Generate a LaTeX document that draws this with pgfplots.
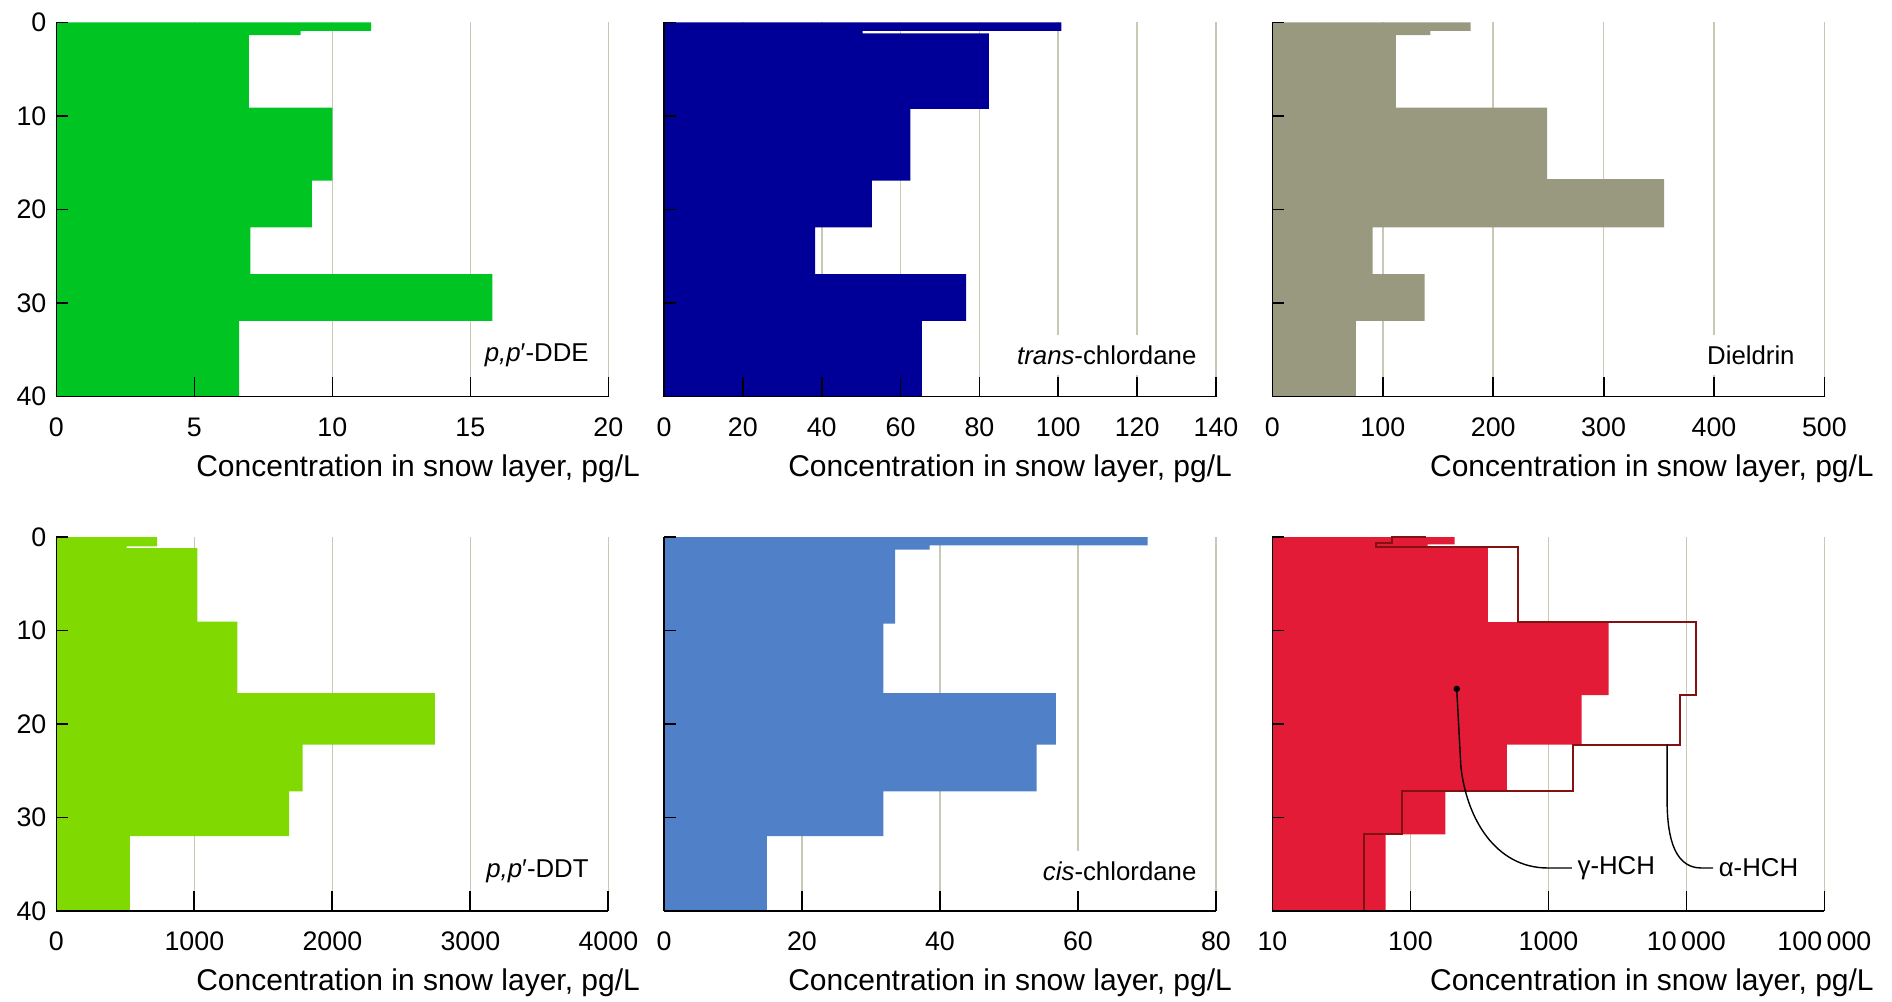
\documentclass[border=0pt]{standalone}
\usepackage{pgfplots}
\pgfplotsset{compat=1.18}
\usepackage{fontspec}
\setmainfont{Liberation Sans}
\usetikzlibrary{arrows.meta}

\definecolor{ddeGreen}{RGB}{0,196,34}
\definecolor{transBlue}{RGB}{0,0,153}
\definecolor{dieldrinGray}{RGB}{153,153,128}
\definecolor{ddtGreen}{RGB}{128,217,0}
\definecolor{cisBlue}{RGB}{79,128,200}
\definecolor{hchRed}{RGB}{227,27,54}
\definecolor{hchLine}{RGB}{128,18,18}
\definecolor{gridKhaki}{RGB}{200,200,180}

\newcommand{\ticksize}{\fontsize{13.4}{16}\selectfont}
\newcommand{\labelsize}{\fontsize{15}{18}\selectfont}
\newcommand{\namesize}{\fontsize{12.9}{15}\selectfont}

% vertical guide lines, drawn before the profiles so they stay behind them
\newcommand{\guides}[1]{%
  \pgfplotsinvokeforeach{#1}{%
    \draw[gridKhaki, line width=0.8pt] (axis cs:##1,0) -- (axis cs:##1,40);}}

\pgfplotsset{
  profile/.style={
    width=276pt, height=187pt, scale only axis, anchor=south west,
    y dir=reverse, ymin=0, ymax=40, ytick={0,10,20,30,40},
    axis x line*=bottom, axis y line*=left,
    axis line style={line width=0.9pt, -},
    tick align=inside,
    major tick length=6pt,
    xtick style={line width=0.9pt, black, /pgfplots/major tick length=10pt},
    ytick style={line width=0.9pt, black},
    minor tick num=0,
    xminorticks=false, yminorticks=false,
    axis on top,
    clip=false,
    ticklabel style={font=\ticksize},
    /pgf/number format/assume math mode=true,
    /pgf/number format/1000 sep={},
    xticklabel style={yshift=-7pt},
    yticklabel style={xshift=-1.5pt},
    xlabel={Concentration in snow layer, pg/L},
    xlabel style={at={(ticklabel cs:1)}, anchor=north east, yshift=-2pt, font=\labelsize},
  },
  nolabels/.style={yticklabels={}},
}

\begin{document}
\begin{tikzpicture}
\useasboundingbox (0,0) rectangle (946pt,501pt);

% ---------- top row ----------
\begin{axis}[profile, at={(28.2pt,302.75pt)},
  xmin=0, xmax=20, xtick={0,5,10,15,20},
  xlabel style={xshift=19.3pt}]
  \guides{5,10,15,20}
  \addplot[fill=ddeGreen, draw=none] coordinates {
    (0,0) (11.4,0) (11.4,0.9) (8.85,0.9) (8.85,1.35) (6.97,1.35)
    (6.97,9.1) (10.0,9.1) (10.0,16.9) (9.26,16.9) (9.26,21.9)
    (7.03,21.9) (7.03,26.9) (15.8,26.9) (15.8,31.9) (6.62,31.9)
    (6.62,40) (0,40)} -- cycle;
\end{axis}

\begin{axis}[profile, nolabels, at={(332pt,302.75pt)},
  xmin=0, xmax=140, xtick={0,20,...,140},
  xlabel style={xshift=11.5pt}]
  \guides{20,40,60,80,100,120,140}
  \addplot[fill=transBlue, draw=none] coordinates {
    (0,0) (100.8,0) (100.8,0.9) (50.4,0.9) (50.4,1.15) (82.4,1.15)
    (82.4,9.25) (62.5,9.25) (62.5,16.9) (52.7,16.9) (52.7,21.9)
    (38.3,21.9) (38.3,26.9) (76.6,26.9) (76.6,31.9) (65.4,31.9)
    (65.4,40) (0,40)} -- cycle;
\end{axis}

\begin{axis}[profile, nolabels, at={(636.2pt,302.75pt)},
  xmin=0, xmax=500, xtick={0,100,...,500},
  xlabel style={xshift=28.2pt}]
  \guides{100,200,300,400,500}
  \addplot[fill=dieldrinGray, draw=none] coordinates {
    (0,0) (179.6,0) (179.6,0.9) (143,0.9) (143,1.35) (111.9,1.35)
    (111.9,9.1) (248.9,9.1) (248.9,16.75) (354.8,16.75) (354.8,21.9)
    (90.7,21.9) (90.7,26.9) (137.8,26.9) (137.8,31.9) (75.6,31.9)
    (75.6,40) (0,40)} -- cycle;
\end{axis}

% ---------- bottom row ----------
\begin{axis}[profile, at={(28.2pt,45.5pt)},
  xmin=0, xmax=4000, xtick={0,1000,...,4000},
  xlabel style={xshift=19.3pt}]
  \guides{1000,2000,3000,4000}
  \addplot[fill=ddtGreen, draw=none] coordinates {
    (0,0) (730,0) (730,1.0) (508,1.0) (508,1.2) (1022,1.2)
    (1022,9.05) (1312,9.05) (1312,16.7) (2742,16.7) (2742,22.2)
    (1784,22.2) (1784,27.2) (1687,27.2) (1687,32) (532,32)
    (532,40) (0,40)} -- cycle;
\end{axis}

\begin{axis}[profile, nolabels, at={(332pt,45.5pt)},
  xmin=0, xmax=80, xtick={0,20,...,80},
  xlabel style={xshift=11.5pt}]
  \guides{20,40,60,80}
  \addplot[fill=cisBlue, draw=none] coordinates {
    (0,0) (70.1,0) (70.1,0.89) (38.5,0.89) (38.5,1.35) (33.5,1.35)
    (33.5,9.27) (31.8,9.27) (31.8,16.7) (56.8,16.7) (56.8,22.2)
    (54.0,22.2) (54.0,27.2) (31.8,27.2) (31.8,32) (14.9,32)
    (14.9,40) (0,40)} -- cycle;
\end{axis}

\begin{axis}[profile, nolabels, at={(636.2pt,45.5pt)},
  xmode=log, xmin=10, xmax=100000,
  xtick={10,100,1000,10000,100000},
  xticklabels={10,100,1000,10\,000,100\,000},
  xlabel style={xshift=28.2pt}]
  \guides{100,1000,10000,100000}
  % gamma-HCH, filled
  \addplot[fill=hchRed, draw=none] coordinates {
    (10,0) (209,0) (209,0.8) (133,0.8) (133,1.1) (364,1.1)
    (364,9.1) (2730,9.1) (2730,16.9) (1740,16.9) (1740,22.2)
    (499,22.2) (499,27.2) (179,27.2) (179,31.8) (66,31.8)
    (66,40) (10,40)} -- cycle;
  % alpha-HCH, outline
  \addplot[hchLine, line width=1pt, mark=none] coordinates {
    (130,0) (73,0) (73,0.65) (56,0.65) (56,1.1) (600,1.1)
    (600,9.1) (11660,9.1) (11660,16.9) (9000,16.9) (9000,22.2)
    (1507,22.2) (1507,27.2) (87.5,27.2) (87.5,31.8) (46.4,31.8)
    (46.4,40)};
  % leaders to the series names
  \draw[black, line width=0.7pt, {Circle[length=3.2pt]}-]
    (axis cs:216,15.9) -- (axis cs:232,24.5)
    to[out=-84,in=180] (axis cs:990,35.4) -- (axis cs:1480,35.4)
    node[anchor=west, inner sep=2.5pt, font=\namesize] {γ-HCH};
  \draw[black, line width=0.7pt]
    (axis cs:7244,22.2) -- (axis cs:7244,28)
    to[out=-90,in=180] (axis cs:12800,35.4) -- (axis cs:15600,35.4)
    node[anchor=west, inner sep=2.5pt, font=\namesize] {α-HCH};
\end{axis}

% ---------- compound names ----------
\tikzset{name box/.style={fill=white, anchor=east, inner xsep=4pt, inner ysep=5.5pt, font=\namesize}}
\node[name box] at (298.5pt,323.5pt) {\textit{p,p}′-DDE};
\node[name box] at (602.4pt,323.5pt) {\textit{trans}-chlordane};
\node[name box] at (901.5pt,323.5pt) {Dieldrin};
\node[name box] at (298.5pt,65.5pt) {\textit{p,p}′-DDT};
\node[name box] at (602.4pt,65.5pt) {\textit{cis}-chlordane};
\end{tikzpicture}
\end{document}
